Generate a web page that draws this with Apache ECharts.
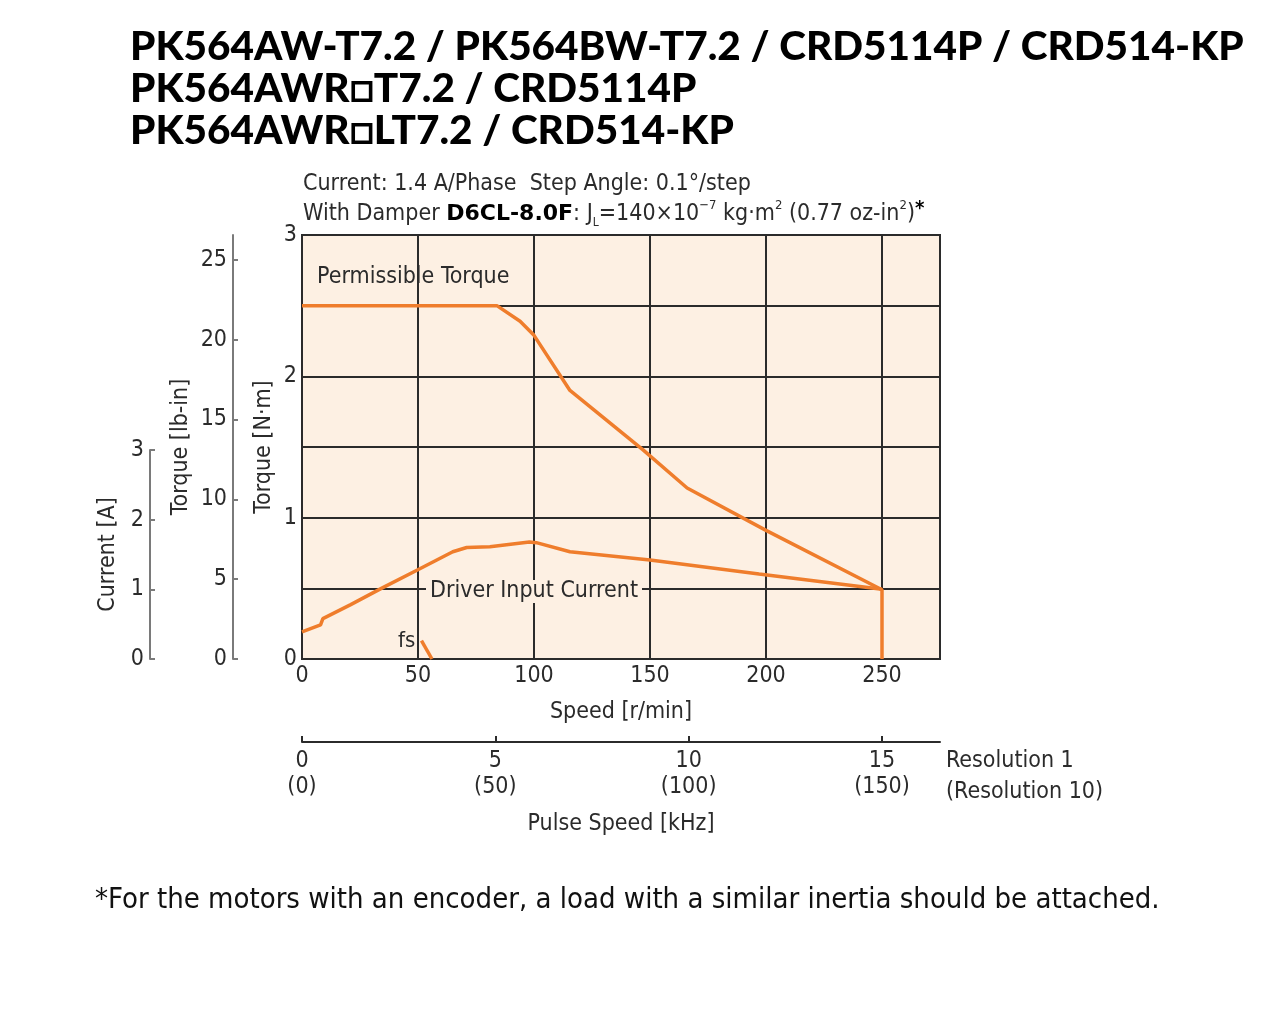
<!DOCTYPE html>
<html>
<head>
<meta charset="utf-8">
<script src="https://cdn.jsdelivr.net/npm/echarts@6/dist/echarts.min.js"></script>
<title>PK564 speed-torque</title>
<style>
  html, body { margin: 0; padding: 0; background: #fff; }
  #main { width: 1280px; height: 1018px; }
</style>
</head>
<body>
<div id="main"></div>
<script type="text/javascript">
// chart data
var torqueSpeed = [0, 84, 94, 100, 115.5, 147, 166, 200, 250, 250];
var torqueNm = [2.5, 2.5, 2.39, 2.29, 1.90, 1.48, 1.21, 0.91, 0.49, 0];

var currentSpeed = [0, 8, 9, 21, 34, 51, 65, 71, 81, 98, 101, 115.5, 150, 197, 250];
var currentA = [0.39, 0.49, 0.58, 0.78, 1.01, 1.30, 1.54, 1.60, 1.61, 1.68, 1.67, 1.54, 1.42, 1.22, 1.00];

var fsSpeed = [51.5, 56];
var fsTorque = [0.13, 0];

var speedMax = 275;          // r/min at right edge of plot
var nmMax = 3;
var lbinPerNm = 8.851;
var pulseAt250 = 15;         // kHz at 250 r/min (resolution 1)

var titleLines = [
  'PK564AW-T7.2 / PK564BW-T7.2 / CRD5114P / CRD514-KP',
  'PK564AWR\u25A1T7.2 / CRD5114P',
  'PK564AWR\u25A1LT7.2 / CRD514-KP'
];

function pairs(xs, ys) {
  return xs.map(function (x, i) { return [x, ys[i]]; });
}

var narrow = "'Liberation Sans Narrow', 'DejaVu Sans Condensed', 'Roboto', sans-serif";
var ink = '#2b2b2b';
var orange = '#ef7d2c';
var peach = '#fdf0e3';

var myChart = echarts.init(document.getElementById('main'));

var option = {
  backgroundColor: '#fff',
  animation: false,
  textStyle: { fontFamily: narrow },
  grid: [
    { left: 302, top: 235, width: 638, height: 424, show: true, backgroundColor: peach,
      borderColor: ink, borderWidth: 2 },
    { left: 302, top: 450, width: 638, height: 209 },
    { left: 302, top: 741, width: 638, height: 1 }
  ],
  xAxis: [
    { type: 'value', gridIndex: 0, min: 0, max: speedMax, interval: 50,
      axisLine: { show: false }, axisTick: { show: false },
      axisLabel: { color: ink, fontSize: 23, margin: 6, showMaxLabel: false, fontFamily: narrow },
      splitLine: { lineStyle: { color: ink, width: 2 } },
      name: 'Speed [r/min]', nameLocation: 'middle', nameGap: 42,
      nameTextStyle: { color: ink, fontSize: 23, fontFamily: narrow } },
    { type: 'value', gridIndex: 1, min: 0, max: speedMax, show: false },
    { type: 'value', gridIndex: 2, min: 0, max: pulseAt250 * speedMax / 250, interval: 5,
      position: 'bottom',
      axisLine: { onZero: false, lineStyle: { color: ink, width: 2 } },
      axisTick: { inside: true, length: 6, lineStyle: { color: ink, width: 2 } },
      splitLine: { show: false },
      axisLabel: { color: ink, fontSize: 23, margin: 6, lineHeight: 26, showMaxLabel: false,
        fontFamily: narrow,
        formatter: function (v) { return v + '\n(' + (v * 10) + ')'; } },
      name: 'Pulse Speed [kHz]', nameLocation: 'middle', nameGap: 71,
      nameTextStyle: { color: ink, fontSize: 23, fontFamily: narrow } }
  ],
  yAxis: [
    { type: 'value', gridIndex: 0, min: 0, max: nmMax, interval: 0.5,
      axisLine: { show: false, onZero: false }, axisTick: { show: false },
      axisLabel: { color: ink, fontSize: 23, margin: 5, fontFamily: narrow,
        formatter: function (v) { return v % 1 === 0 ? String(v) : ''; } },
      splitLine: { lineStyle: { color: ink, width: 2 } },
      name: 'Torque [N\u00B7m]', nameLocation: 'middle', nameGap: 26, nameRotate: 90,
      nameTextStyle: { color: ink, fontSize: 23, fontFamily: narrow } },
    { type: 'value', gridIndex: 0, min: 0, max: nmMax * lbinPerNm, interval: 5,
      position: 'left', offset: 69,
      axisLine: { show: true, onZero: false, lineStyle: { color: '#7a7a7a', width: 2 } },
      axisTick: { show: true, inside: true, length: 5, lineStyle: { color: '#7a7a7a', width: 2 } },
      axisLabel: { color: ink, fontSize: 23, margin: 6, showMaxLabel: false, fontFamily: narrow },
      splitLine: { show: false },
      name: 'Torque [lb-in]', nameLocation: 'middle', nameGap: 40, nameRotate: 90,
      nameTextStyle: { color: ink, fontSize: 23, fontFamily: narrow } },
    { type: 'value', gridIndex: 1, min: 0, max: 3, interval: 1,
      position: 'left', offset: 152,
      axisLine: { show: true, onZero: false, lineStyle: { color: '#7a7a7a', width: 2 } },
      axisTick: { show: true, inside: true, length: 5, lineStyle: { color: '#7a7a7a', width: 2 } },
      axisLabel: { color: ink, fontSize: 23, margin: 6, fontFamily: narrow },
      splitLine: { show: false },
      name: 'Current [A]', nameLocation: 'middle', nameGap: 30, nameRotate: 90,
      nameTextStyle: { color: ink, fontSize: 23, fontFamily: narrow } },
    { type: 'value', gridIndex: 2, show: false }
  ],
  series: [
    { name: 'Permissible Torque', type: 'line', xAxisIndex: 0, yAxisIndex: 0,
      data: pairs(torqueSpeed, torqueNm), showSymbol: false,
      lineStyle: { color: orange, width: 3.5 }, z: 5 },
    { name: 'Driver Input Current', type: 'line', xAxisIndex: 1, yAxisIndex: 2,
      data: pairs(currentSpeed, currentA), showSymbol: false,
      lineStyle: { color: orange, width: 3.5 }, z: 5 },
    { name: 'fs', type: 'line', xAxisIndex: 0, yAxisIndex: 0,
      data: pairs(fsSpeed, fsTorque), showSymbol: false,
      lineStyle: { color: orange, width: 3.5 }, z: 5 }
  ],
  graphic: [
    { type: 'text', left: 130, top: 26, z: 10,
      style: { text: titleLines.join('\n'), fill: '#000', lineHeight: 42,
        font: "900 40.5px Lato, 'DejaVu Sans', sans-serif" } },
    { type: 'text', left: 303, top: 173, z: 10,
      style: { text: 'Current: 1.4 A/Phase  Step Angle: 0.1\u00B0/step', fill: ink,
        font: '23px ' + narrow } },
    { type: 'text', left: 303, top: 199, z: 10,
      style: {
        text: 'With Damper {b|D6CL-8.0F}: J{sub|L}=140\u00D710{sup|\u22127} kg\u00B7m{sup|2} (0.77 oz-in{sup|2}){star|*}',
        fill: ink, font: '23px ' + narrow, lineHeight: 30,
        rich: {
          b: { fontWeight: 'bold', fontSize: 22, fill: '#000', fontFamily: "'DejaVu Sans', sans-serif", lineHeight: 30 },
          sub: { fontSize: 12, verticalAlign: 'bottom', lineHeight: 30, fill: ink, fontFamily: narrow },
          sup: { fontSize: 13, verticalAlign: 'top', lineHeight: 30, fill: ink, fontFamily: narrow },
          star: { fontSize: 20, fontWeight: 'bold', verticalAlign: 'top', lineHeight: 26, fill: '#000', fontFamily: narrow }
        } } },
    { type: 'text', left: 317, top: 266, z: 10,
      style: { text: 'Permissible Torque', fill: ink, font: '23px ' + narrow } },
    { type: 'text', left: 426, top: 580, z: 10,
      style: { text: 'Driver Input Current', fill: ink, font: '23px ' + narrow,
        backgroundColor: peach, padding: [0, 4] } },
    { type: 'text', left: 398, top: 630, z: 10,
      style: { text: 'fs', fill: ink, font: '22px ' + narrow } },
    { type: 'text', left: 946, top: 746, z: 10,
      style: { text: 'Resolution 1\n(Resolution 10)', fill: ink, lineHeight: 31,
        font: '23px ' + narrow } },
    { type: 'text', left: 95, top: 886, z: 10,
      style: { text: '*For the motors with an encoder, a load with a similar inertia should be attached.',
        fill: '#111', font: '29px ' + narrow } }
  ]
};

myChart.setOption(option);
</script>
</body>
</html>
